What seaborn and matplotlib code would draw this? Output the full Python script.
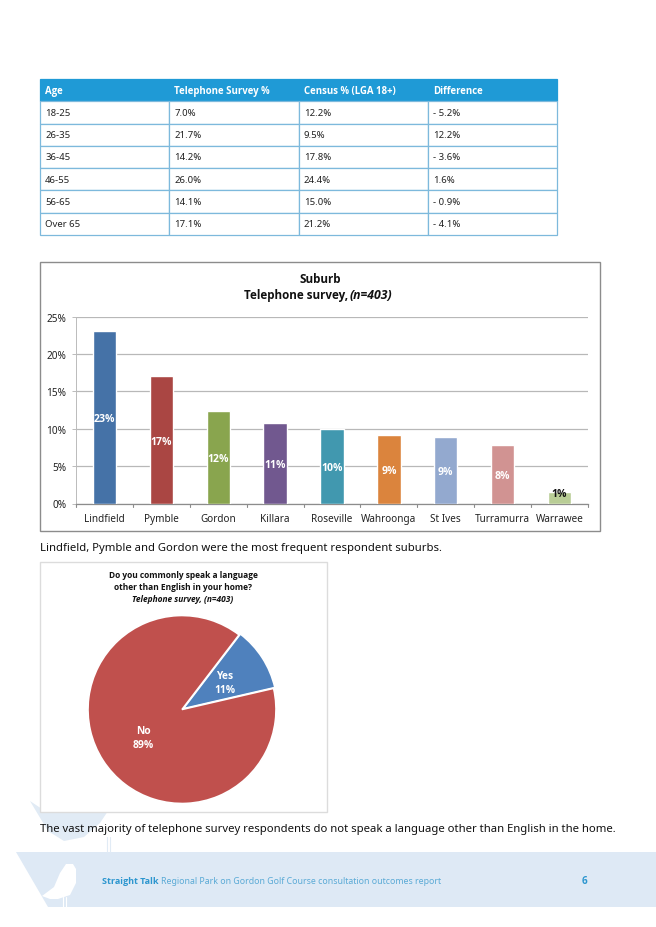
import matplotlib
matplotlib.use("Agg")
import matplotlib.pyplot as plt
import pandas as pd
import seaborn as sns
from matplotlib.patches import Polygon, Rectangle

W, H = 656, 928
table_header = ["Age", "Telephone Survey %", "Census % (LGA 18+)", "Difference"]
age_groups = ["18-25", "26-35", "36-45", "46-55", "56-65", "Over 65"]
telephone = ["7.0%", "21.7%", "14.2%", "26.0%", "14.1%", "17.1%"]
census = ["12.2%", "9.5%", "17.8%", "24.4%", "15.0%", "21.2%"]
difference = ["- 5.2%", "12.2%", "- 3.6%", "1.6%", "- 0.9%", "- 4.1%"]

suburbs = ["Lindfield", "Pymble", "Gordon", "Killara", "Roseville",
           "Wahroonga", "St Ives", "Turramurra", "Warrawee"]
suburb_values = [23.0, 17.0, 12.4, 10.7, 10.0, 9.2, 8.9, 7.8, 1.5]
suburb_labels = ["23%", "17%", "12%", "11%", "10%", "9%", "9%", "8%", "1%"]
suburb_colors = ["#4572A7", "#AA4643", "#89A54E", "#71588F", "#4198AF",
                 "#DB843D", "#93A9CF", "#D19392", "#B9CD96"]
label_colors = ["white"] * 8 + ["#111111"]

pie_labels = ["Yes", "No"]
pie_values = [11, 89]
pie_colors = ["#4F81BD", "#C0504D"]

sns.set_theme(style="white")
plt.rcParams["font.family"] = ["Noto Sans", "DejaVu Sans"]
TXT = "#222222"
BOLD = ["Open Sans", "DejaVu Sans"]

def axes_px(fig, x0, y0, x1, y1, **kw):
    return fig.add_axes([x0 / W, 1 - y1 / H, (x1 - x0) / W, (y1 - y0) / H], **kw)

fig = plt.figure(figsize=(W / 100, H / 100), dpi=100, facecolor="white")

# page layer: pixel coordinates, y downwards
page = axes_px(fig, 0, 0, W, H)
page.set_xlim(0, W); page.set_ylim(H, 0); page.axis("off")
BAND = "#DEE9F5"
PALE = "#E1EBF5"
# pale bird behind the pie panel
page.add_patch(Polygon([(30, 802), (42, 810), (60, 812), (80, 812), (112, 806), (100, 824),
                       (84, 838), (64, 842), (48, 832)], fc=PALE, ec="none"))
page.plot([107, 107], [838, 853], color=PALE, lw=0.8)
page.plot([110, 110], [838, 853], color=PALE, lw=0.8)
page.add_patch(Polygon([(16, 853), (656, 853), (656, 908), (48, 908)], fc=BAND, ec="none"))
# white bird in the footer
page.add_patch(Polygon([(42, 897), (54, 888), (60, 874), (66, 865), (73, 865), (76, 870),
                       (76, 884), (70, 896), (58, 900), (50, 900)], fc="white", ec="none"))
page.plot([63, 63], [898, 908], color="white", lw=0.8)
page.plot([66, 66], [898, 908], color="white", lw=0.8)

page.text(39.5, 549, "Lindfield, Pymble and Gordon were the most frequent respondent suburbs.",
          fontsize=8.12, color="#111111", va="center")
page.text(39.5, 830, "The vast majority of telephone survey respondents do not speak a language "
          "other than English in the home.", fontsize=8.12, color="#111111", va="center")
page.text(102, 882, "Straight Talk", fontsize=6.5, fontweight="bold", family=BOLD,
          color="#2C96CF", va="center")
page.text(161, 882, "Regional Park on Gordon Golf Course consultation outcomes report",
          fontsize=6.3, color="#5AAAD6", va="center")
page.text(584, 882, "6", fontsize=7, fontweight="bold", family=BOLD, color="#2C96CF",
          ha="center", va="center")

# panels
page.add_patch(Rectangle((40, 263), 560, 269, fc="white", ec="#8C8C8C", lw=1, zorder=2))
page.add_patch(Rectangle((40, 563), 287, 250, fc="white", ec="#DCDCDC", lw=1, zorder=2))

# table
tab_ax = axes_px(fig, 40, 80, 557, 236)
tab_ax.axis("off")
rows = [list(r) for r in zip(age_groups, telephone, census, difference)]
table = tab_ax.table(cellText=rows, colLabels=table_header, cellLoc="left", colLoc="left",
                     colWidths=[0.25] * 4, bbox=[0, 0, 1, 1])
table.auto_set_font_size(False)
for (r, c), cell in table.get_celld().items():
    cell.set_edgecolor("#7DB9DC")
    cell.set_linewidth(0.9)
    cell.PAD = 0.04
    t = cell.get_text()
    t.set_fontsize(6.9)
    t.set_color("#222222")
    if r == 0:
        cell.set_facecolor("#1F9AD6")
        cell.set_edgecolor("#1F9AD6")
        t.set_color("white")
        t.set_fontweight("bold")
        t.set_family(BOLD)

# bar chart
bar_ax = axes_px(fig, 76, 317.5, 588, 504.5)
df = pd.DataFrame({"Suburb": suburbs, "Share": suburb_values})
sns.barplot(data=df, x="Suburb", y="Share", hue="Suburb", palette=suburb_colors,
            order=suburbs, hue_order=suburbs, width=0.41, legend=False, saturation=1,
            ax=bar_ax, zorder=3)
bar_ax.set_xlim(-0.5, len(suburbs) - 0.5)
bar_ax.set_ylim(0, 25)
bar_ax.set_yticks(range(0, 30, 5))
bar_ax.set_yticklabels([f"{v}%" for v in range(0, 30, 5)], fontsize=7.2, color=TXT)
bar_ax.set_xticks(range(len(suburbs)))
bar_ax.set_xticklabels(suburbs, fontsize=7.2, color=TXT)
bar_ax.set_xlabel(""); bar_ax.set_ylabel("")
bar_ax.grid(axis="y", color="#B8B8B8", lw=0.9, zorder=0)
bar_ax.set_axisbelow(True)
bar_ax.patch.set_alpha(0)
for s in ("top", "right"):
    bar_ax.spines[s].set_visible(False)
bar_ax.spines["left"].set_color("#BBBBBB")
bar_ax.spines["left"].set_linewidth(0.7)
bar_ax.spines["bottom"].set_color("#8C8C8C")
bar_ax.spines["bottom"].set_linewidth(0.9)
bar_ax.tick_params(axis="x", length=0, pad=7)
bar_ax.tick_params(axis="y", length=3, width=0.7, color="#BBBBBB", pad=4, left=True)
for b in [i - 0.5 for i in range(len(suburbs) + 1)]:
    bar_ax.plot([b, b], [0, -0.5], color="#8C8C8C", lw=0.8, clip_on=False, zorder=4)
for i, (v, lab, col) in enumerate(zip(suburb_values, suburb_labels, label_colors)):
    bar_ax.text(i, max(v / 2 - 0.2, 1.4), lab, ha="center", va="center", fontsize=7.6,
                fontweight="bold", family=BOLD, color=col, zorder=5)
page.text(320, 280, "Suburb", fontsize=8.4, fontweight="bold", family=BOLD, color="#111111",
          ha="center", va="center", zorder=3)
page.text(348, 296, "Telephone survey,", fontsize=8.4, fontweight="bold", family=BOLD,
          color="#111111", ha="right", va="center", zorder=3)
page.text(350, 296, "(n=403)", fontsize=8.8, fontweight="bold", style="italic", family=BOLD,
          color="#111111", ha="left", va="center", zorder=3)

# pie chart
pie_ax = axes_px(fig, 82, 610.5, 282, 810.5)
wedges, _ = pie_ax.pie(pie_values, colors=pie_colors, startangle=13, radius=0.94,
                       explode=[0.015, 0], center=(0, 0),
                       wedgeprops={"edgecolor": "white", "linewidth": 1.2})
pie_ax.set_xlim(-1, 1); pie_ax.set_ylim(-1, 1); pie_ax.set_aspect("equal")
pie_ax.text(0.43, 0.27, f"{pie_labels[0]}\n{pie_values[0]}%", color="white", fontsize=7.4,
            fontweight="bold", family=BOLD, ha="center", va="center", linespacing=1.45)
pie_ax.text(-0.39, -0.28, f"{pie_labels[1]}\n{pie_values[1]}%", color="white", fontsize=7.4,
            fontweight="bold", family=BOLD, ha="center", va="center", linespacing=1.45)
page.text(183, 576, "Do you commonly speak a language", fontsize=6.0, fontweight="bold",
          family=BOLD, color="#111111", ha="center", va="center", zorder=3)
page.text(183, 588, "other than English in your home?", fontsize=6.0, fontweight="bold",
          family=BOLD, color="#111111", ha="center", va="center", zorder=3)
page.text(183, 600, "Telephone survey, (n=403)", fontsize=6.0, fontweight="bold",
          style="italic", family=BOLD, color="#111111", ha="center", va="center", zorder=3)

fig.savefig("out.png", dpi=100)
